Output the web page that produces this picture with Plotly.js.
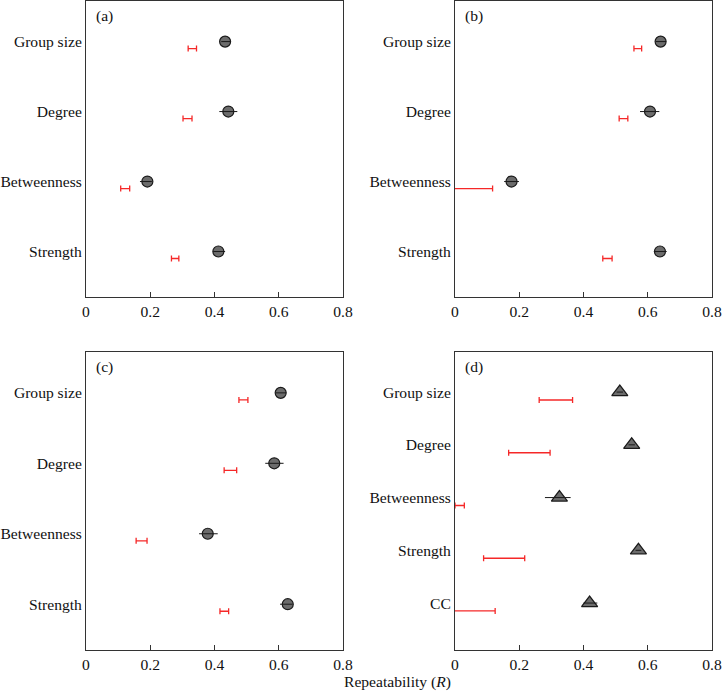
<!DOCTYPE html>
<html>
<head>
<meta charset="utf-8">
<script src="https://cdn.plot.ly/plotly-3.0.1.min.js"></script>
<style>html,body{margin:0;padding:0;background:#fff;}#chart{width:722px;height:691px;}</style>
</head>
<body>
<div id="chart"></div>
<script>
// ---------- data ----------
const catsABC = ['Group size', 'Degree', 'Betweenness', 'Strength'];
const catsD = ['Group size', 'Degree', 'Betweenness', 'Strength', 'CC'];
const xTicks = [0, 0.2, 0.4, 0.6, 0.8];
const xTickText = ['0', '0.2', '0.4', '0.6', '0.8'];

// panel (a)
const aR = [0.433, 0.443, 0.191, 0.412];
const aLo = [0.421, 0.415, 0.168, 0.396];
const aHi = [0.450, 0.471, 0.205, 0.433];
const aNullLo = [0.318, 0.302, 0.108, 0.266];
const aNullHi = [0.344, 0.330, 0.136, 0.289];

// panel (b)
const bR = [0.640, 0.607, 0.176, 0.638];
const bLo = [0.625, 0.576, 0.153, 0.619];
const bHi = [0.657, 0.636, 0.199, 0.659];
const bNullLo = [0.557, 0.511, -0.05, 0.460];
const bNullHi = [0.581, 0.538, 0.117, 0.489];

// panel (c)
const cR = [0.606, 0.586, 0.379, 0.628];
const cLo = [0.591, 0.558, 0.352, 0.604];
const cHi = [0.623, 0.615, 0.410, 0.643];
const cNullLo = [0.476, 0.430, 0.156, 0.417];
const cNullHi = [0.504, 0.469, 0.190, 0.444];

// panel (d)
const dR = [0.513, 0.550, 0.325, 0.571, 0.419];
const dLo = [0.503, 0.540, 0.280, 0.562, 0.400];
const dHi = [0.523, 0.560, 0.360, 0.580, 0.443];
const dNullLo = [0.262, 0.167, 0.000, 0.089, -0.05];
const dNullHi = [0.366, 0.296, 0.029, 0.217, 0.125];

// ---------- build ----------
const FONT = 'Liberation Serif, Times New Roman, serif';
const FS = 15.6;
const RED = 'rgb(245,40,40)';
const panels = [
  {cats: catsABC, r: aR, lo: aLo, hi: aHi, nlo: aNullLo, nhi: aNullHi, ax: '', sym: 'circle', size: 11, off: 0.1},
  {cats: catsABC, r: bR, lo: bLo, hi: bHi, nlo: bNullLo, nhi: bNullHi, ax: '2', sym: 'circle', size: 11, off: 0.1},
  {cats: catsABC, r: cR, lo: cLo, hi: cHi, nlo: cNullLo, nhi: cNullHi, ax: '3', sym: 'circle', size: 11, off: 0.1},
  {cats: catsD, r: dR, lo: dLo, hi: dHi, nlo: dNullLo, nhi: dNullHi, ax: '4', sym: 'triangle-up', size: 14, off: 0.15}
];

const traces = [];
panels.forEach(p => {
  const n = p.cats.length;
  const ypos = p.cats.map((c, i) => n - i);
  const yNull = ypos.map(v => v - p.off);
  const nullMid = p.nlo.map((v, i) => (v + p.nhi[i]) / 2);
  const nullHalf = p.nlo.map((v, i) => (p.nhi[i] - v) / 2);
  // null CI (red)
  traces.push({
    type: 'scatter', mode: 'markers', x: nullMid, y: yNull,
    xaxis: 'x' + p.ax, yaxis: 'y' + p.ax,
    marker: {size: 1, opacity: 0},
    error_x: {type: 'data', symmetric: true, array: nullHalf, color: RED, thickness: 1.3, width: 3},
    showlegend: false, hoverinfo: 'skip'
  });
  // observed markers
  traces.push({
    type: 'scatter', mode: 'markers', x: p.r, y: ypos,
    xaxis: 'x' + p.ax, yaxis: 'y' + p.ax,
    marker: {symbol: p.sym, size: p.size, color: 'rgb(108,108,108)', line: {color: '#1a1a1a', width: 1.2}},
    showlegend: false
  });
  // observed CI on top of markers
  traces.push({
    type: 'scatter', mode: 'markers', x: p.r, y: ypos,
    xaxis: 'x' + p.ax, yaxis: 'y' + p.ax,
    marker: {size: 1, opacity: 0},
    error_x: {type: 'data', symmetric: false,
      array: p.hi.map((v, i) => v - p.r[i]),
      arrayminus: p.lo.map((v, i) => p.r[i] - v),
      color: '#1a1a1a', thickness: 1, width: 0},
    showlegend: false, hoverinfo: 'skip'
  });
});

function xAxis(domain, anchor) {
  return {
    domain: domain, anchor: anchor, range: [0, 0.8],
    tickmode: 'array', tickvals: xTicks, ticktext: xTickText,
    ticks: 'inside', ticklen: 5, tickwidth: 1, tickcolor: '#333',
    showline: true, mirror: true, linecolor: '#333', linewidth: 1,
    showgrid: false, zeroline: false, fixedrange: true,
    tickfont: {family: FONT, size: FS, color: '#111'}
  };
}
function yAxis(domain, anchor, cats, range) {
  const n = cats.length;
  return {
    domain: domain, anchor: anchor, range: range,
    tickmode: 'array', tickvals: cats.map((c, i) => n - i), ticktext: cats,
    ticks: '', showline: true, mirror: true, linecolor: '#333', linewidth: 1,
    showgrid: false, zeroline: false, fixedrange: true,
    tickfont: {family: FONT, size: FS, color: '#111'}
  };
}

const xL = [86 / 722, 343 / 722], xR = [455 / 722, 712 / 722];
const yT = [1 - 297 / 691, 1 - 1 / 691], yB = [1 - 650 / 691, 1 - 352 / 691];
const rABC = [0.35, 4.58], rD = [0.11, 5.76];

const letters = ['(a)', '(b)', '(c)', '(d)'];
const axIds = ['', '2', '3', '4'];
const annotations = letters.map((t, i) => ({
  text: t, xref: 'x' + axIds[i] + ' domain', yref: 'y' + axIds[i] + ' domain',
  x: 0.03, y: 0.95, xanchor: 'left', yanchor: 'middle', showarrow: false,
  font: {family: FONT, size: FS, color: '#111'}
}));
annotations.push({
  text: 'Repeatability (<i>R</i>)', xref: 'paper', yref: 'paper',
  x: 397 / 722, y: (691 - 682) / 691, xanchor: 'center', yanchor: 'middle', showarrow: false,
  font: {family: FONT, size: FS, color: '#111'}
});

const layout = {
  width: 722, height: 691,
  margin: {l: 0, r: 0, t: 0, b: 0},
  paper_bgcolor: '#fff', plot_bgcolor: '#fff',
  xaxis: xAxis(xL, 'y'), yaxis: yAxis(yT, 'x', catsABC, rABC),
  xaxis2: xAxis(xR, 'y2'), yaxis2: yAxis(yT, 'x2', catsABC, rABC),
  xaxis3: xAxis(xL, 'y3'), yaxis3: yAxis(yB, 'x3', catsABC, rABC),
  xaxis4: xAxis(xR, 'y4'), yaxis4: yAxis(yB, 'x4', catsD, rD),
  annotations: annotations,
  showlegend: false
};

Plotly.newPlot('chart', traces, layout, {displayModeBar: false, staticPlot: true});
</script>
</body>
</html>
